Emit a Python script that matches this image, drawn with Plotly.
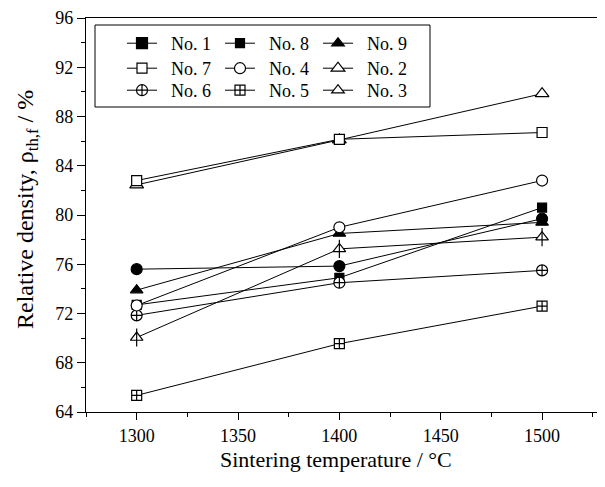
import plotly.graph_objects as go

temps = [1300, 1400, 1500]
no1 = [75.6, 75.85, 79.7]
no8 = [72.7, 74.9, 80.6]
no9 = [73.9, 78.5, 79.4]
no7 = [82.8, 86.15, 86.7]
no4 = [72.65, 79.0, 82.8]
no2 = [82.45, 86.1, 89.85]
no6 = [71.85, 74.5, 75.5]
no5 = [65.35, 69.55, 72.6]
no3 = [70.05, 77.25, 78.2]

x_ticks = [1300, 1350, 1400, 1450, 1500]
y_ticks = [64, 68, 72, 76, 80, 84, 88, 92, 96]

FONT = "Liberation Serif, Times New Roman, Times, DejaVu Serif, serif"
W, H = 605, 487
L, R, T, B = 78, 1, 10, 83
pw = W - L - R
ph = H - T - B
NB = "\u00a0\u00a0"

fig = go.Figure()

def add_series(name, ys, symbol, fill, size=10, legend_symbol=None, legend="legend", rank=1, overlay=None):
    fig.add_trace(go.Scatter(
        x=temps, y=ys, mode="lines+markers", name=name, showlegend=False,
        line=dict(color="black", width=1),
        marker=dict(symbol=symbol, size=size, color=fill, line=dict(color="black", width=1.2)),
    ))
    if overlay:
        fig.add_trace(go.Scatter(
            x=temps, y=ys, mode="markers", showlegend=False, hoverinfo="skip",
            marker=dict(symbol=overlay, size=size + 2, color="black", line=dict(color="black", width=1.2)),
        ))
    fig.add_trace(go.Scatter(
        x=[None], y=[None], mode="lines+markers", name=NB + name, legend=legend, legendrank=rank,
        line=dict(color="black", width=1),
        marker=dict(symbol=legend_symbol or symbol, size=size, color=fill, line=dict(color="black", width=1.2)),
    ))

# rows: legend = row 1, legend2 = row 2, legend3 = row 3
add_series("No. 8", no8, "square", "black", 9, legend="legend", rank=2)
add_series("No. 1", no1, "circle", "black", 11, legend_symbol="square", legend="legend", rank=1)
add_series("No. 9", no9, "triangle-up", "black", 11, legend="legend", rank=3)
add_series("No. 6", no6, "circle-cross", "white", 11, legend="legend3", rank=1)
add_series("No. 5", no5, "square-cross", "white", 10, legend="legend3", rank=2)
add_series("No. 3", no3, "triangle-up", "white", 11, legend="legend3", rank=3, overlay="line-ns")
add_series("No. 4", no4, "circle", "white", 11, legend="legend2", rank=2)
add_series("No. 2", no2, "triangle-up", "white", 12, legend="legend2", rank=3)
add_series("No. 7", no7, "square", "white", 10, legend="legend2", rank=1)

def px_x(px):
    return (px - L) / pw

def px_y(py):
    return (H - B - py) / ph

leg_common = dict(
    font=dict(family=FONT, size=18, color="black"),
    bgcolor="rgba(0,0,0,0)", borderwidth=0, orientation="h",
    entrywidth=53, entrywidthmode="pixels",
    xanchor="left", yanchor="top", xref="paper", yref="paper",
    itemsizing="trace", traceorder="normal",
)
LX = px_x(114)
fig.update_layout(
    legend=dict(x=LX, y=px_y(17), **leg_common),
    legend2=dict(x=LX, y=px_y(42), **leg_common),
    legend3=dict(x=LX, y=px_y(64), **leg_common),
)

# legend frame
fig.add_shape(type="rect", xref="paper", yref="paper",
              x0=px_x(87), x1=px_x(422), y0=px_y(99), y1=px_y(17),
              line=dict(color="black", width=1), fillcolor="rgba(0,0,0,0)", layer="above")

fig.add_annotation(text="Sintering temperature / °C", xref="paper", yref="paper",
                   x=px_x(328), y=px_y(452), showarrow=False,
                   xanchor="center", yanchor="middle",
                   font=dict(family=FONT, size=22, color="black"))
fig.add_annotation(text="Relative density, ρ<sub>th,f</sub> / %", xref="paper", yref="paper",
                   x=px_x(19), y=px_y(202), showarrow=False, textangle=-90,
                   xanchor="center", yanchor="middle",
                   font=dict(family=FONT, size=24, color="black"))

fig.update_layout(
    width=W, height=H,
    margin=dict(l=L, r=R, t=T, b=B, autoexpand=False),
    paper_bgcolor="white", plot_bgcolor="white",
    font=dict(family=FONT, size=18, color="black"),
    xaxis=dict(
        range=[1275, 1534.5], tickvals=x_ticks,
        ticks="outside", ticklen=7, tickwidth=1, tickcolor="black",
        minor=dict(dtick=25, tick0=1275, ticks="outside", ticklen=4, tickcolor="black", tickwidth=1),
        showline=True, linecolor="black", linewidth=1.2, mirror=True,
        showgrid=False, zeroline=False,
        tickfont=dict(family=FONT, size=18),
    ),
    yaxis=dict(
        range=[64, 96], tickvals=y_ticks,
        ticks="outside", ticklen=8, tickwidth=1, tickcolor="black",
        minor=dict(dtick=2, tick0=64, ticks="outside", ticklen=4, tickcolor="black", tickwidth=1),
        showline=True, linecolor="black", linewidth=1.2, mirror=True,
        showgrid=False, zeroline=False,
        tickfont=dict(family=FONT, size=18),
    ),
)

fig.write_html("out.html")
